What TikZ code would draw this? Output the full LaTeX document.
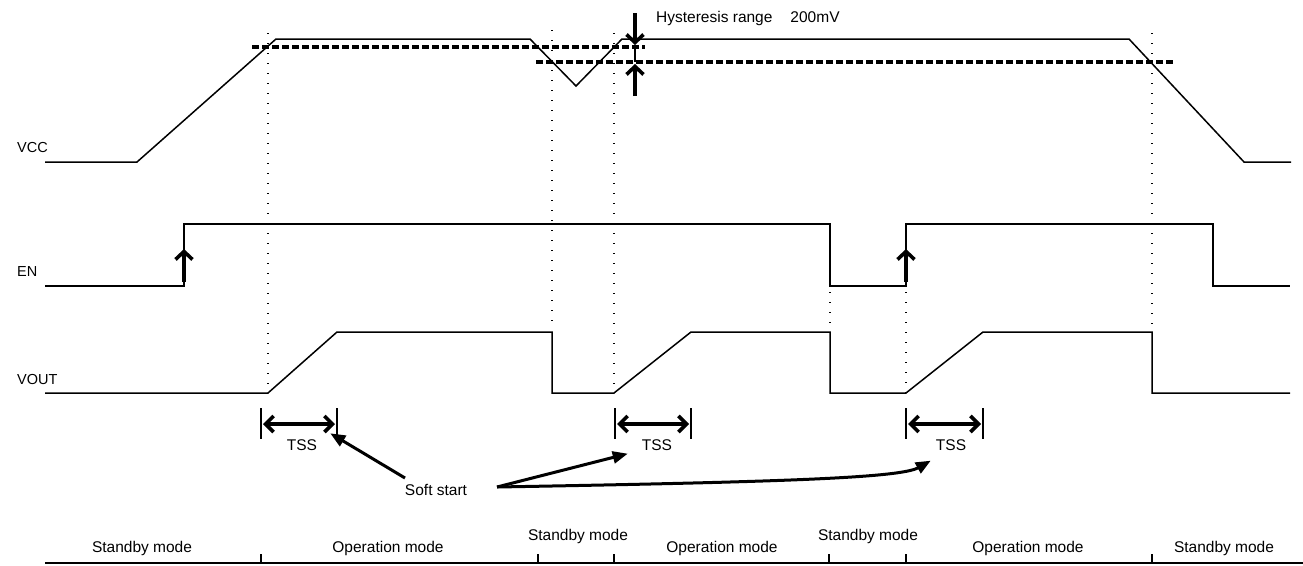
\documentclass[tikz,border=0pt]{standalone}
\usepackage{fontspec}
\setmainfont{Liberation Sans}
\usetikzlibrary{arrows.meta,calc}
\begin{document}
\begin{tikzpicture}[x=1pt,y=-1pt,
  wave/.style={line width=1.5pt, line join=miter},
  guide/.style={line width=1.3pt, dash pattern=on 1.3pt off 8.7pt},
  thresh/.style={line width=3.2pt, dash pattern=on 7pt off 3pt},
  bigarrow/.style={line width=3.6pt, -{Straight Barb[length=8pt,width=17pt]}},
  dblarrow/.style={line width=3.6pt, {Straight Barb[length=8pt,width=16pt]}-{Straight Barb[length=8pt,width=16pt]}},
  callout/.style={line width=3pt, -{Triangle[length=15pt,width=12pt]}},
  lbl/.style={inner sep=0pt, font=\fontsize{15.5}{18}\selectfont},
  sig/.style={inner sep=0pt, anchor=base west, font=\fontsize{14.5}{17}\selectfont},
  mode/.style={inner sep=0pt, anchor=base, font=\fontsize{15.5}{18}\selectfont},
  tickline/.style={line width=1.5pt}
]
\useasboundingbox (0,0) rectangle (1303,565);

% signal labels
\node[sig] (vcc) at (17,152) {VCC};
\node[sig] (en) at (17,276) {EN};
\node[sig] (vout) at (17,384) {VOUT};

% guide lines
\draw[guide] (268,33) -- (268,393);
\draw[guide] (552,30) -- (552,326);
\draw[guide] (614,33) -- (614,393);
\draw[guide] (830,292) -- (830,326);
\draw[guide] (906,292) -- (906,393);
\draw[guide] (1152,33) -- (1152,326);

% thresholds
\draw[thresh] (252,47) -- (645,47);
\draw[thresh] (536,62) -- (1175,62);

% waveforms
\draw[wave] (45,162) -- (137,162) -- (276,39) -- (530,39) -- (576,86) -- (622,39) -- (1129,39) -- (1244,162) -- (1291,162);
\draw[wave] (45,286) -- (184,286) -- (184,224) -- (830,224) -- (830,286) -- (906,286) -- (906,224) -- (1213,224) -- (1213,286) -- (1290,286);
\draw[wave] (45,393) -- (268,393) -- (337,332) -- (552,332) -- (552,393) -- (614,393) -- (691,332) -- (830,332) -- (830,393) -- (906,393) -- (983,332) -- (1152,332) -- (1152,393) -- (1290,393);

% EN arrows
\draw[bigarrow] (184,282) -- (184,249);
\draw[bigarrow] (906,282) -- (906,249);

% hysteresis
\draw[bigarrow] (635,13) -- (635,45);
\draw[line width=1.2pt] (635,47) -- (635,62);
\draw[bigarrow] (635,96) -- (635,64);
\node[lbl, anchor=base west] (hyst) at (656,22) {Hysteresis range\hspace{18pt}200mV};

% TSS brackets
\draw[tickline] (261,408) -- (261,439);
\draw[tickline] (337,408) -- (337,439);
\draw[dblarrow] (263,424) -- (335,424);
\draw[tickline] (615,408) -- (615,439);
\draw[tickline] (691,408) -- (691,439);
\draw[dblarrow] (617,424) -- (689,424);
\draw[tickline] (906,408) -- (906,439);
\draw[tickline] (983,408) -- (983,439);
\draw[dblarrow] (908,424) -- (981,424);
\node[lbl] (tss1) at (302,445) {TSS};
\node[lbl] (tss2) at (657,445) {TSS};
\node[lbl] (tss3) at (951,445) {TSS};

% soft start
\node[lbl] (soft) at (436,490) {Soft start};
\coordinate (ss1) at (405,478);
\coordinate (ss) at (497,487);
\draw[callout] (ss1) -- ($(tss1.north east)+(13,-6)$);
\draw[callout] (ss) -- ($(tss2.south west)+(-14,3)$);
\draw[callout] (ss) .. controls (780,482) and (900,478) .. ($(tss3.south west)+(-5,10)$);

% mode axis
\draw[tickline] (45,563) -- (1303,563);
\foreach \x in {261,538,614,829,906,1152} \draw[tickline] (\x,554) -- (\x,563);
\node[mode] (m1) at (142,552) {Standby mode};
\node[mode] (m2) at (388,552) {Operation mode};
\node[mode] (m3) at (578,540) {Standby mode};
\node[mode] (m4) at (722,552) {Operation mode};
\node[mode] (m5) at (868,540) {Standby mode};
\node[mode] (m6) at (1028,552) {Operation mode};
\node[mode] (m7) at (1224,552) {Standby mode};
\end{tikzpicture}
\end{document}
